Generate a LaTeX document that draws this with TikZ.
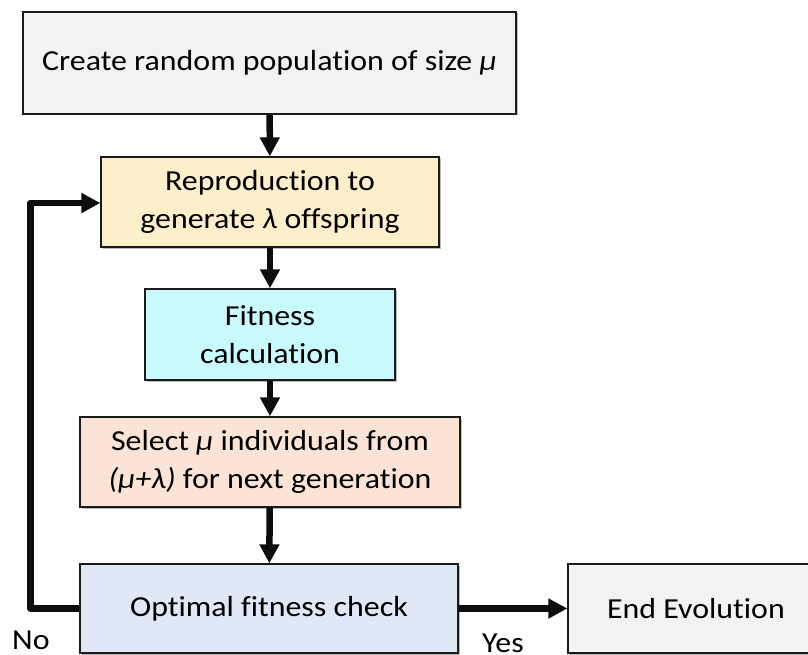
\documentclass[tikz,border=0pt]{standalone}
\usepackage{fontspec}
\setmainfont{Carlito}[FakeStretch=1.1, Ligatures=NoCommon]
\usetikzlibrary{arrows.meta,shadows}
\definecolor{boxgray}{HTML}{F2F2F2}
\definecolor{boxyellow}{HTML}{FDEFC9}
\definecolor{boxcyan}{HTML}{C9FBFE}
\definecolor{boxpeach}{HTML}{FBE4D5}
\definecolor{boxblue}{HTML}{DEE9F5}
\definecolor{edge}{HTML}{1A1A1A}
\tikzset{
  stepbox/.style={draw=edge, line width=1.3pt, inner sep=0pt, align=center,
    font=\fontsize{29}{38}\selectfont,
    drop shadow={shadow xshift=1.5pt, shadow yshift=-1.5pt, fill=black!45, opacity=0.6}},
  flow/.style={line width=6.5pt, draw=black!95, line join=round,
    -{Triangle[length=19pt,width=19pt]}},
  lbl/.style={font=\fontsize{29}{38}\selectfont, inner sep=0pt}
}
\begin{document}
\begin{tikzpicture}[x=1pt,y=-1pt]
  \useasboundingbox (0,0) rectangle (808,655);
  % main column of steps
  \node[stepbox, fill=boxgray, minimum width=493pt, minimum height=102pt] (create) at (269.5,63)
    {Create random population of size \textit{μ}};
  \node[stepbox, fill=boxyellow, minimum width=338pt, minimum height=90pt] (repro) at (270,202)
    {Reproduction to\\generate \textit{λ} offspring};
  \node[stepbox, fill=boxcyan, minimum width=250pt, minimum height=91pt] (fit) at (270,334.5)
    {Fitness\\calculation};
  \node[stepbox, fill=boxpeach, minimum width=380pt, minimum height=90pt] (sel) at (270,462)
    {Select \textit{μ} individuals from\\\textit{(μ+λ)} for next generation};
  \node[stepbox, fill=boxblue, minimum width=378pt, minimum height=89pt] (check) at (269,608.5)
    {Optimal fitness check};
  % terminal step, running past the right edge
  \node[stepbox, fill=boxgray, minimum width=256pt, minimum height=89pt] (endev) at (696,608.5)
    {End Evolution};
  % loop back on failure
  \coordinate (loopdn) at (30.5,608.5);
  \coordinate (loopup) at (30.5,203);
  \draw[flow] (create) -- (repro);
  \draw[flow] (repro) -- (fit);
  \draw[flow] (fit) -- (sel);
  \draw[flow] (sel) -- (check);
  \draw[flow] (check) -- (endev);
  \draw[flow] (check.west) -- (loopdn) -- (loopup) -- (repro.west |- loopup);
  \node[lbl, anchor=base west] (no) at (12,649) {No};
  \node[lbl, anchor=base west] (yes) at (482,652) {Yes};
\end{tikzpicture}
\end{document}
